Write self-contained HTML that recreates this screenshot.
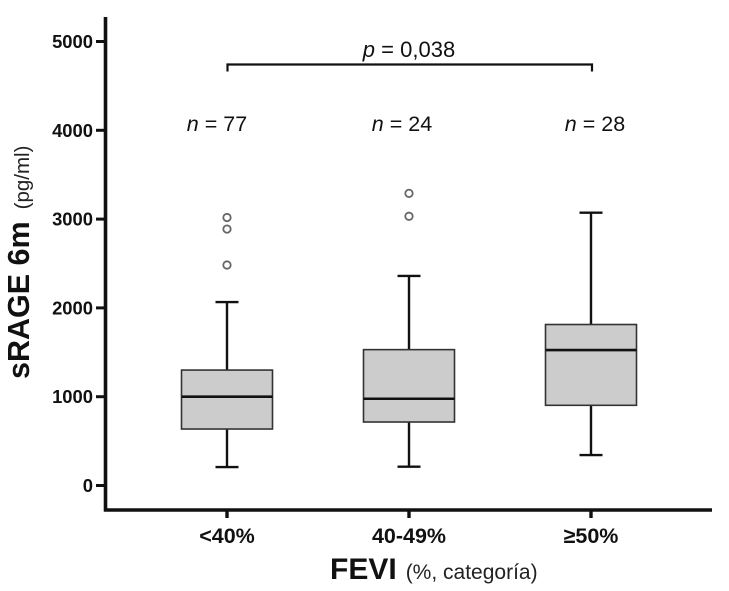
<!DOCTYPE html>
<html lang="es">
<head>
<meta charset="utf-8">
<title>sRAGE 6m por FEVI</title>
<style>
html,body{margin:0;padding:0;background:#fff;width:729px;height:591px;overflow:hidden}
svg{display:block;font-family:"Liberation Sans",sans-serif;color:#111;filter:blur(0.35px)}
text{fill:#111}
</style>
</head>
<body>
<svg id="chart" xmlns="http://www.w3.org/2000/svg" width="729" height="591" viewBox="0 0 729 591">
<rect x="0" y="0" width="729" height="591" fill="#fff"/>
<g id="marks"></g>
<g id="axes"></g>
<text transform="translate(29,379) rotate(-90)" font-size="30.5" font-weight="bold">sRAGE 6m<tspan dx="12" font-size="20.5" font-weight="normal" fill="#222">(pg/ml)</tspan></text>
<text x="330" y="579" font-size="30" font-weight="bold">FEVI<tspan dx="9" font-size="21" font-weight="normal" fill="#222">(%, categoría)</tspan></text>
<g>
<path d="M227.5 71.5V64.5H592V71.5" fill="none" stroke="#111" stroke-width="2.2"/>
<text x="409" y="57" font-size="22" text-anchor="middle"><tspan font-style="italic">p</tspan> = 0,038</text>
</g>
</svg>
<script>
const categories = ['<40%', '40-49%', '≥50%'];
const sampleSizes = [77, 24, 28];
const whiskerLow = [208, 212, 343];
const q1 = [636, 715, 903];
const median = [1000, 977, 1525];
const q3 = [1300, 1530, 1813];
const whiskerHigh = [2066, 2360, 3072];
const outliers = [[2483, 2888, 3018], [3032, 3290], []];
const yTicks = [0, 1000, 2000, 3000, 4000, 5000];

const NS = 'http://www.w3.org/2000/svg';
const yScale = v => 485.5 - v * 0.0888;
const xScale = i => 227 + i * 182;
const marks = document.getElementById('marks');
const axes = document.getElementById('axes');

function make(parent, tag, attrs, text) {
  const el = document.createElementNS(NS, tag);
  for (const k in attrs) el.setAttribute(k, attrs[k]);
  if (text !== undefined) el.textContent = text;
  parent.appendChild(el);
  return el;
}

const dark = '#111';
const halfBox = 45.5;
const halfCap = 11.5;

categories.forEach((cat, i) => {
  const x = xScale(i);
  const group = make(marks, 'g', {});
  
  

  const upper = make(group, 'line', {x1: x, x2: x, y1: yScale(whiskerHigh[i]), y2: yScale(q3[i]), stroke: dark, 'stroke-width': 2.4});
  
  

  const lower = make(group, 'line', {x1: x, x2: x, y1: yScale(q1[i]), y2: yScale(whiskerLow[i]), stroke: dark, 'stroke-width': 2.4});
  
  

  const capHigh = make(group, 'line', {x1: x - halfCap, x2: x + halfCap, y1: yScale(whiskerHigh[i]), y2: yScale(whiskerHigh[i]), stroke: dark, 'stroke-width': 2.4});
  
  

  const capLow = make(group, 'line', {x1: x - halfCap, x2: x + halfCap, y1: yScale(whiskerLow[i]), y2: yScale(whiskerLow[i]), stroke: dark, 'stroke-width': 2.4});
  
  

  const box = make(group, 'rect', {x: x - halfBox, y: yScale(q3[i]), width: halfBox * 2, height: yScale(q1[i]) - yScale(q3[i]), fill: '#cccccc', stroke: '#333', 'stroke-width': 1.6});
  
  

  const med = make(group, 'line', {x1: x - halfBox, x2: x + halfBox, y1: yScale(median[i]), y2: yScale(median[i]), stroke: dark, 'stroke-width': 2.6});
  
  

  outliers[i].forEach(v => {
    const dot = make(group, 'circle', {cx: x, cy: yScale(v), r: 3.7, fill: '#fff', stroke: '#666', 'stroke-width': 1.8});
    
    
  });

  const nShift = i === 2 ? 4 : (i === 1 ? -7 : -10);
  const nLabel = make(group, 'text', {x: x + nShift, y: 131, 'font-size': 21.5, 'text-anchor': 'middle'});
  
  
  make(nLabel, 'tspan', {'font-style': 'italic'}, 'n');
  make(nLabel, 'tspan', {}, ' = ' + sampleSizes[i]);

  const tick = make(axes, 'line', {x1: x, x2: x, y1: 510, y2: 518, stroke: dark, 'stroke-width': 3.4});
  
  

  const label = make(axes, 'text', {x: x, y: 543, 'font-size': 21.5, 'font-weight': 'bold', 'text-anchor': 'middle'}, cat);
  
  
});

yTicks.forEach(v => {
  const y = yScale(v);
  const tick = make(axes, 'line', {x1: 96, x2: 105, y1: y, y2: y, stroke: dark, 'stroke-width': 3});
  
  

  const label = make(axes, 'text', {x: 93, y: y + 6.5, 'font-size': 18.4, 'font-weight': 'bold', 'text-anchor': 'end'}, String(v));
  
  
});

const yAxis = make(axes, 'line', {x1: 105.5, x2: 105.5, y1: 17, y2: 511.5, stroke: dark, 'stroke-width': 3.6});



const xAxis = make(axes, 'line', {x1: 104, x2: 712, y1: 510, y2: 510, stroke: dark, 'stroke-width': 3.6});


</script>
</body>
</html>
